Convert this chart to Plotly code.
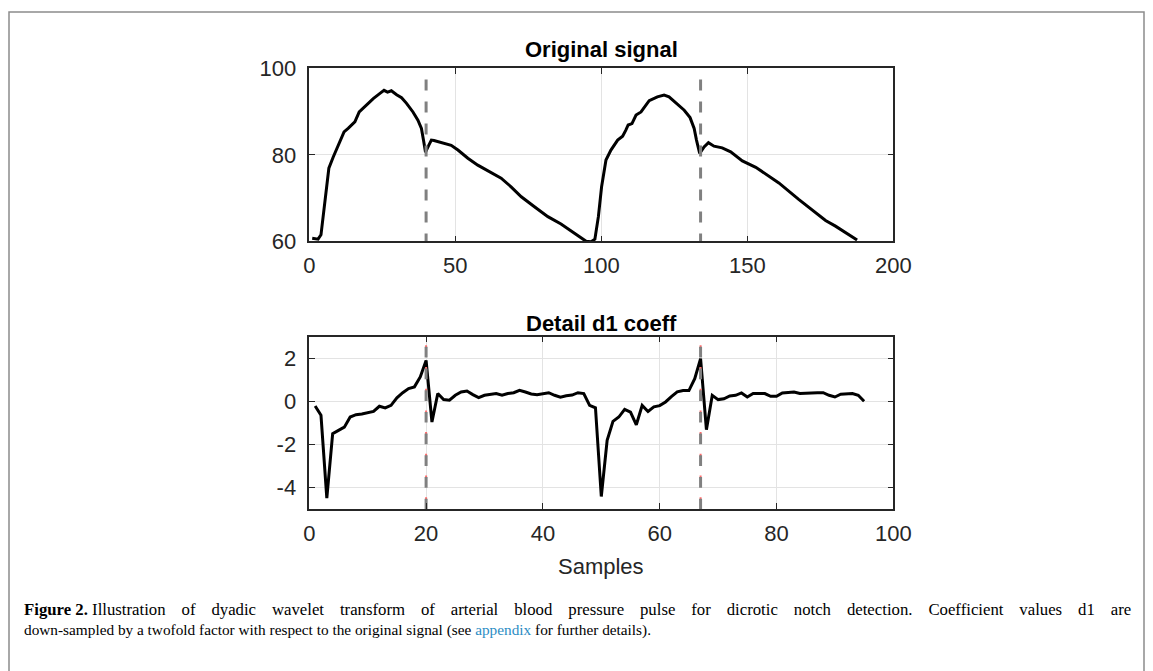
import plotly.graph_objects as go

# ---------------- data ----------------
top_x = [1, 3, 4, 5.4, 6.7, 8.2, 9.9, 11.9, 13.3, 14.5, 15.6, 17.1, 19, 21.9, 24.2,
         25.6, 26.8, 28.1, 29.9, 31.6, 33.3, 35.5, 37.2, 38.4, 39.1, 39.8, 40.9, 41.8,
         42.7, 44.1, 46.4, 48.6, 50.9, 54.3, 57.7, 62.3, 65.7, 69.1, 72.6, 77.1, 81.7,
         86.2, 89.6, 93.1, 94.8, 96.5, 97.8, 99.0, 100.1, 101.6, 103.3, 105.6, 107.3,
         108.4, 109.2, 110.5, 111.9, 113.6, 116.4, 119.2, 121.5, 123.2, 125.5, 128.4,
         130.4, 131.8, 132.6, 133.7, 135.2, 136.7, 138.6, 141.4, 144.3, 148.3, 152.9,
         160.8, 167.6, 172.2, 176.8, 180.2, 184.2, 187.6]
top_y = [60.7, 60.5, 61.5, 69.5, 76.9, 79.5, 82.2, 85.3, 86.1, 86.9, 87.6, 89.9, 91.1, 93.0, 94.2,
         94.9, 94.5, 94.8, 93.9, 93.2, 91.9, 89.9, 88.0, 86.1, 83.4, 80.6, 82.2, 83.4,
         83.3, 83.0, 82.6, 82.2, 81.1, 79.2, 77.6, 75.9, 74.6, 72.6, 70.3, 68.0, 65.7,
         64.0, 62.4, 60.7, 60.0, 59.9, 60.5, 65.7, 72.6, 78.8, 81.1, 83.4, 84.3,
         85.7, 86.9, 87.2, 89.2, 89.9, 92.5, 93.4, 93.8, 93.4, 92.0, 90.3,
         88.6, 86.1, 83.4, 80.3, 81.8, 82.8, 82.0, 81.6, 80.7, 78.6, 77.1,
         73.5, 69.7, 67.2, 64.8, 63.5, 61.8, 60.3]

d1_x = list(range(1, 96))
d1_y = [-0.22, -0.65, -4.5, -1.5, -1.35, -1.2, -0.73, -0.62, -0.59, -0.54,
        -0.47, -0.23, -0.31, -0.19, 0.16, 0.4, 0.59, 0.67, 1.13, 1.9,
        -0.96, 0.36, 0.08, 0.05, 0.28, 0.43, 0.48, 0.31, 0.17, 0.28,
        0.33, 0.36, 0.28, 0.36, 0.4, 0.51, 0.43, 0.34, 0.31, 0.36,
        0.4, 0.28, 0.19, 0.26, 0.29, 0.4, 0.36, -0.19, -0.3, -4.42,
        -1.81, -0.93, -0.73, -0.37, -0.5, -1.09, -0.19, -0.47, -0.26, -0.2,
        -0.03, 0.22, 0.44, 0.5, 0.5, 1.05, 1.98, -1.32, 0.28, 0.08,
        0.12, 0.25, 0.28, 0.39, 0.2, 0.36, 0.36, 0.36, 0.23, 0.23,
        0.39, 0.42, 0.43, 0.36, 0.36, 0.39, 0.4, 0.4, 0.28, 0.2,
        0.33, 0.36, 0.36, 0.28, 0.0]

top_notch_x = [40, 134]
top_notch_y = [97.4, 60]
d1_notch_x = [20, 67]
d1_notch_y = [2.53, -5]
d1_notch_red_y = [2.6, -5]

top_xticks = [0, 50, 100, 150, 200]
top_yticks = [60, 80, 100]
d1_xticks = [0, 20, 40, 60, 80, 100]
d1_yticks = [-4, -2, 0, 2]
d1_yticklabels = ["-4", "-2", "0", "2"]

title_top = "Original signal"
title_bottom = "Detail d1 coeff"
xlabel = "Samples"
caption_label = "Figure 2."
caption_line1_words = ["Illustration", "of", "dyadic", "wavelet", "transform", "of", "arterial",
                       "blood", "pressure", "pulse", "for", "dicrotic", "notch", "detection.",
                       "Coefficient", "values", "d1", "are"]
caption_line2 = ("down-sampled by a twofold factor with respect to the original signal (see "
                 "<span style='color:#2b8cc4'>appendix</span> for further details).")

# ---------------- layout helpers ----------------
W, H = 1153, 671
def fx(x):
    return x / W
def fy(y):
    return 1 - y / H

SANS = "Liberation Sans, Arial, Helvetica, sans-serif"
SERIF = "Liberation Serif, Times New Roman, serif"
AXC = "#262626"

fig = go.Figure()

# top signal
fig.add_trace(go.Scatter(x=top_x, y=top_y, mode="lines",
                         line=dict(color="black", width=3), xaxis="x", yaxis="y",
                         showlegend=False, hoverinfo="skip"))
for nx in top_notch_x:
    fig.add_trace(go.Scatter(x=[nx, nx], y=top_notch_y, mode="lines",
                             line=dict(color="#808080", width=3, dash="11px,11px"),
                             xaxis="x", yaxis="y", showlegend=False, hoverinfo="skip"))

# d1 coefficients
fig.add_trace(go.Scatter(x=d1_x, y=d1_y, mode="lines",
                         line=dict(color="black", width=3), xaxis="x2", yaxis="y2",
                         showlegend=False, hoverinfo="skip"))
for nx in d1_notch_x:
    fig.add_trace(go.Scatter(x=[nx, nx], y=d1_notch_red_y, mode="lines",
                             line=dict(color="#ff6b6b", width=2, dash="3px,18.7px"),
                             xaxis="x2", yaxis="y2", showlegend=False, hoverinfo="skip"))
    fig.add_trace(go.Scatter(x=[nx, nx], y=d1_notch_y, mode="lines",
                             line=dict(color="#808080", width=3, dash="10.7px,11px"),
                             xaxis="x2", yaxis="y2", showlegend=False, hoverinfo="skip"))

ax_common = dict(showline=True, linecolor=AXC, linewidth=1.5, mirror="ticks",
                 ticks="inside", ticklen=6, tickwidth=1.3, tickcolor=AXC,
                 showgrid=True, gridcolor="#e3e3e3", gridwidth=1, zeroline=False,
                 automargin=False,
                 tickfont=dict(family=SANS, size=22, color=AXC), fixedrange=True)

x_dom = [fx(309.3), fx(893.3)]
fig.update_layout(
    width=W, height=H, autosize=False,
    margin=dict(l=0, r=0, t=0, b=0, pad=0),
    paper_bgcolor="white", plot_bgcolor="white",
    showlegend=False,
    xaxis=dict(domain=x_dom, range=[0, 200], tickvals=top_xticks, anchor="y",
               ticklabelstandoff=4, **ax_common),
    yaxis=dict(domain=[fy(241.3), fy(68.3)], range=[60, 100], tickvals=top_yticks,
               anchor="x", ticklabelstandoff=7, **ax_common),
    xaxis2=dict(domain=x_dom, range=[0, 100], tickvals=d1_xticks, anchor="y2",
                ticklabelstandoff=4, **ax_common),
    yaxis2=dict(domain=[fy(509), fy(336.7)], range=[-5, 3], tickvals=d1_yticks,
                ticktext=d1_yticklabels, anchor="x2", ticklabelstandoff=7, **ax_common),
)

gap = "&nbsp;&nbsp;\u2009"
line1 = "<b>" + caption_label + "</b> " + (" " + gap).join(caption_line1_words)

annotations = [
    dict(text="<b>" + title_top + "</b>", x=fx(601), y=fy(49), xref="paper", yref="paper",
         xanchor="center", yanchor="middle", showarrow=False,
         font=dict(family=SANS, size=22, color="black")),
    dict(text="<b>" + title_bottom + "</b>", x=fx(601), y=fy(323), xref="paper", yref="paper",
         xanchor="center", yanchor="middle", showarrow=False,
         font=dict(family=SANS, size=22, color="black")),
    dict(text=xlabel, x=fx(601), y=fy(566), xref="paper", yref="paper",
         xanchor="center", yanchor="middle", showarrow=False,
         font=dict(family=SANS, size=22, color=AXC)),
    dict(text=line1, x=fx(22), y=fy(609), xref="paper", yref="paper",
         xanchor="left", yanchor="middle", align="left", showarrow=False,
         font=dict(family=SERIF, size=16.75, color="black")),
    dict(text=caption_line2, x=fx(22), y=fy(630), xref="paper", yref="paper",
         xanchor="left", yanchor="middle", align="left", showarrow=False,
         font=dict(family=SERIF, size=15.3, color="black")),
]
fig.update_layout(annotations=annotations)

fig.add_shape(type="rect", xref="paper", yref="paper",
              x0=fx(9), x1=fx(1144), y0=-0.02, y1=fy(12),
              line=dict(color="#8c8c8c", width=1.5), fillcolor="rgba(0,0,0,0)", layer="below")

fig.write_html("out.html", config={"displayModeBar": False},
               post_script="document.body.style.margin='0';document.body.style.overflow='hidden';")
